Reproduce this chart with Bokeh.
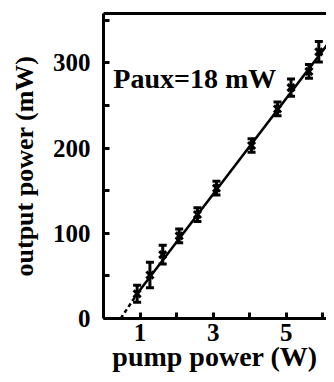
from bokeh.plotting import figure
from bokeh.models import FixedTicker, LinearAxis, Range1d, Label, ColumnDataSource
from bokeh.embed import file_html
from bokeh.resources import INLINE

# data
pump_w = [0.92, 1.27, 1.62, 2.07, 2.57, 3.09, 4.05, 4.76, 5.13, 5.62, 5.89]
out_mw = [29, 51, 75, 97, 122, 153, 203, 246, 271, 290, 313]
err_mw = [10, 15, 11, 8, 8, 8, 8, 8, 10, 8, 12]
fit_x = [0.92, 6.15]
fit_y = [29, 323]
thr_x = [0.47, 0.92]
thr_y = [0, 29]
x_major = [1, 3, 5]
x_minor = [2, 4, 6]
y_major = [0, 100, 200, 300]
y_minor = [50, 150, 250, 350]
note = "Paux=18 mW"

FONT = "Liberation Serif"

p = figure(width=326, height=374, output_backend="svg", toolbar_location=None,
           x_range=Range1d(0, 6.1), y_range=Range1d(0, 358),
           min_border_left=103, min_border_right=0, min_border_top=13, min_border_bottom=52)
p.outline_line_color = None
p.grid.grid_line_color = None
p.background_fill_color = "white"

lo = [v - e for v, e in zip(out_mw, err_mw)]
hi = [v + e for v, e in zip(out_mw, err_mw)]
src = ColumnDataSource(dict(x=pump_w, y=out_mw, lo=lo, hi=hi))

p.line(fit_x, fit_y, line_color="black", line_width=2.5)
p.line(thr_x, thr_y, line_color="black", line_width=2.5, line_dash="4 3")
p.segment(x0="x", y0="lo", x1="x", y1="hi", source=src, line_color="black", line_width=3)
p.scatter(x="x", y="lo", source=src, marker="dash", size=8, line_color="black", line_width=3)
p.scatter(x="x", y="hi", source=src, marker="dash", size=8, line_color="black", line_width=3)
p.scatter(x="x", y="y", source=src, marker="x", size=10, line_color="black", line_width=3)

p.add_layout(Label(x=0.27, y=282, text=note, text_font=FONT, text_font_style="bold",
                   text_font_size="28px", text_baseline="middle", text_color="black"))

for ax in (p.xaxis[0], p.yaxis[0]):
    ax.axis_line_width = 3
    ax.axis_line_color = "black"
    ax.major_tick_in = 6
    ax.major_tick_out = 0
    ax.major_tick_line_width = 3
    ax.minor_tick_in = 6
    ax.minor_tick_out = 0
    ax.minor_tick_line_width = 3
    ax.major_label_text_font = FONT
    ax.major_label_text_font_style = "bold"
    ax.major_label_text_font_size = "25px"
    ax.major_label_text_color = "black"
    ax.axis_label_text_font = FONT
    ax.axis_label_text_font_style = "bold"
    ax.axis_label_text_color = "black"

p.xaxis[0].ticker = FixedTicker(ticks=x_major, minor_ticks=x_minor)
p.xaxis[0].axis_label = "pump power (W)"
p.xaxis[0].axis_label_text_font_size = "28px"
p.xaxis[0].major_label_standoff = 5
p.xaxis[0].axis_label_standoff = -3

p.yaxis[0].ticker = FixedTicker(ticks=y_major, minor_ticks=y_minor)
p.yaxis[0].axis_label = "output power (mW)"
p.yaxis[0].axis_label_text_font_size = "26px"
p.yaxis[0].major_label_standoff = 13
p.yaxis[0].axis_label_standoff = 11

top = LinearAxis(axis_line_width=3, axis_line_color="black",
                 ticker=FixedTicker(ticks=[]),
                 major_tick_line_color=None, minor_tick_line_color=None)
p.add_layout(top, "above")

open("out.html", "w").write(file_html(p, INLINE))
